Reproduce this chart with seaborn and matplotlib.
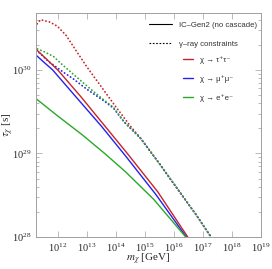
import numpy as np
import pandas as pd
import matplotlib
matplotlib.use("Agg")
import matplotlib.pyplot as plt
import seaborn as sns
from matplotlib.lines import Line2D

# log10 of (m_chi [GeV], tau [s])
red_solid_m = [11.28, 11.6, 12.03, 12.8, 13.6, 14.4, 15.45, 16.48]
red_solid_t = [30.24, 30.135, 29.99, 29.68, 29.34, 29.0, 28.54, 28.0]
blue_solid_m = [11.28, 11.6, 11.83, 12.6, 13.5, 14.34, 15.38, 16.43]
blue_solid_t = [30.17, 30.07, 30.0, 29.69, 29.33, 28.97, 28.51, 28.0]
green_solid_m = [11.28, 12.0, 12.86, 13.62, 14.34, 15.31, 16.41]
green_solid_t = [29.65, 29.45, 29.22, 29.0, 28.78, 28.45, 28.0]

red_dot_m = [11.30, 11.42, 11.75, 12.0, 12.3, 12.6, 13.0, 13.5, 14.0, 14.5, 14.86, 15.5, 16.2, 16.76, 17.28]
red_dot_t = [30.55, 30.60, 30.57, 30.52, 30.41, 30.25, 30.04, 29.8, 29.56, 29.33, 29.18, 28.88, 28.54, 28.27, 28.0]
blue_dot_m = [11.28, 11.69, 12.21, 12.55, 13.0, 13.59, 13.93, 14.28, 14.86, 15.5, 16.2, 16.76, 17.28]
blue_dot_t = [30.235, 30.10, 29.97, 29.89, 29.77, 29.63, 29.54, 29.38, 29.18, 28.88, 28.54, 28.27, 28.0]
green_dot_m = [11.31, 11.52, 11.86, 12.17, 12.7, 13.24, 13.59, 13.93, 14.28, 14.86, 15.5, 16.2, 16.76, 17.28]
green_dot_t = [30.25, 30.22, 30.16, 30.06, 29.9, 29.74, 29.64, 29.55, 29.38, 29.18, 28.88, 28.54, 28.27, 28.0]

red = "#c82428"
blue = "#2222ee"
green = "#2aa82a"

sns.set_style("ticks")
plt.rcParams["mathtext.fontset"] = "stix"
plt.rcParams["font.family"] = ["Liberation Serif", "DejaVu Serif"]

fig = plt.figure(figsize=(2.72, 2.69), dpi=100)
ax = fig.add_axes([36 / 272, 32 / 269, 225 / 272, 224 / 269])

dotted = (0, (0.1, 1.9))
series = [
    (red_dot_m, red_dot_t, red, dotted, 1.3),
    (blue_dot_m, blue_dot_t, blue, dotted, 1.3),
    (green_dot_m, green_dot_t, green, dotted, 1.3),
    (red_solid_m, red_solid_t, red, "-", 1.0),
    (blue_solid_m, blue_solid_t, blue, "-", 1.0),
    (green_solid_m, green_solid_t, green, "-", 1.0),
]
for m, t, c, ls, lw in series:
    df = pd.DataFrame({"m": 10 ** np.array(m), "tau": 10 ** np.array(t)})
    sns.lineplot(data=df, x="m", y="tau", ax=ax, color=c, linestyle=ls,
                 linewidth=lw, sort=False, estimator=None,
                 dash_capstyle="round")

ax.set_xscale("log")
ax.set_yscale("log")
ax.set_xlim(10 ** 11.26, 1e19)
ax.set_ylim(1e28, 10 ** 30.68)
ax.set_xticks([10.0 ** k for k in range(12, 20)])
ax.set_yticks([1e28, 1e29, 1e30])

for s in ax.spines.values():
    s.set_color("#a0a0a0")
    s.set_linewidth(0.7)
ax.tick_params(which="both", direction="in", top=True, right=True,
               color="#a0a0a0", labelsize=7.5, width=0.5, pad=3)
ax.tick_params(which="major", length=4)
ax.tick_params(which="minor", length=2)

ax.set_xlabel(r"$m_\chi$ [GeV]", fontsize=8, labelpad=-1)
ax.set_ylabel(r"$\tau_\chi$ [s]", fontsize=8, labelpad=-2.5)

sans = ["Liberation Sans", "DejaVu Sans"]
h1 = [Line2D([], [], color="black", lw=0.8),
      Line2D([], [], color="black", lw=0.8, ls=(0, (1.5, 1.5)))]
leg1 = ax.legend(h1, ["IC\u2013Gen2 (no cascade)", "\u03b3\u2013ray constraints"],
                 loc="upper left", bbox_to_anchor=(0.49, 0.975), frameon=False,
                 handlelength=2.9, handletextpad=0.9, labelspacing=1.45,
                 prop={"family": sans, "size": 5.6}, borderaxespad=0)
for txt in leg1.get_texts():
    txt.set_color("#333333")
ax.add_artist(leg1)

h2 = [Line2D([], [], color=red, lw=1.0),
      Line2D([], [], color=blue, lw=1.0),
      Line2D([], [], color=green, lw=1.0)]
leg2 = ax.legend(h2, ["\u03c7 \u2192 \u03c4\u207a\u03c4\u207b", "\u03c7 \u2192 \u03bc\u207a\u03bc\u207b",
                      "\u03c7 \u2192 e\u207ae\u207b"],
                 loc="upper left", bbox_to_anchor=(0.64, 0.82), frameon=False,
                 handlelength=1.3, handletextpad=0.9, labelspacing=1.45,
                 prop={"family": sans, "size": 5.6}, borderaxespad=0)
for txt in leg2.get_texts():
    txt.set_color("#333333")

fig.savefig("out.png", dpi=100)
